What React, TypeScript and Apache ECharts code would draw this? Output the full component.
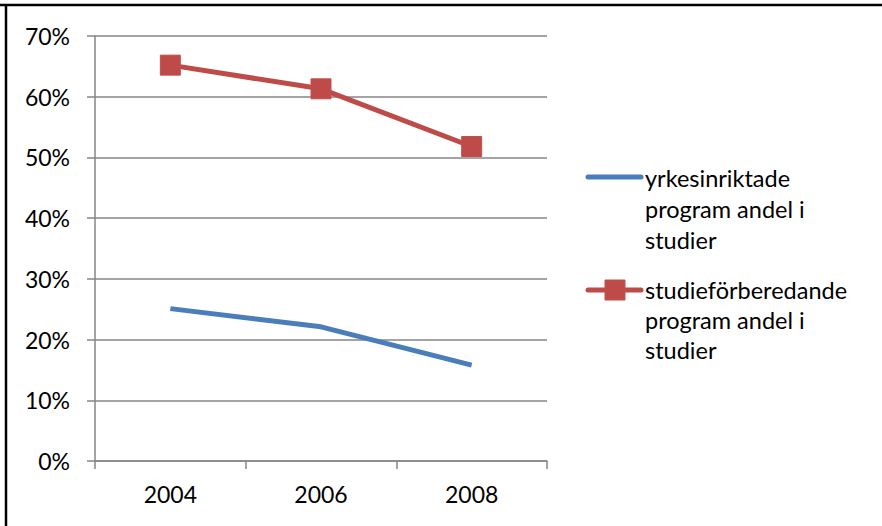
import React, { useEffect, useRef } from "react";
import * as echarts from "echarts";

const categories = ["2004", "2006", "2008"];
const seriesNames = [
  "yrkesinriktade program andel i studier",
  "studieförberedande program andel i studier",
];
const legendLabels = [
  "yrkesinriktade\nprogram andel i\nstudier",
  "studieförberedande\nprogram andel i\nstudier",
];
const yrkesValues = [0.251, 0.221, 0.158];
const studieValues = [0.652, 0.613, 0.518];

const FONT = "Lato, 'Open Sans', sans-serif";
const BLUE = "#4A7EBB";
const RED = "#BE4B48";

export default function App() {
  const ref = useRef<HTMLDivElement>(null);
  useEffect(() => {
    if (!ref.current) return;
    const chart = echarts.init(ref.current, undefined, { renderer: "svg" });
    chart.setOption({
      animation: false,
      backgroundColor: "#ffffff",
      grid: { left: 95, right: 335, top: 36, bottom: 65 },
      xAxis: {
        type: "category",
        data: categories,
        boundaryGap: true,
        axisLine: { lineStyle: { color: "#868686", width: 1.5 } },
        axisTick: { show: true, length: 8, lineStyle: { color: "#868686", width: 1.5 } },
        axisLabel: { color: "#000", fontSize: 23, fontFamily: FONT, margin: 21 },
      },
      yAxis: {
        type: "value",
        min: 0,
        max: 0.7,
        interval: 0.1,
        axisLine: { show: true, lineStyle: { color: "#868686", width: 1.5 } },
        axisTick: { show: true, length: 8, lineStyle: { color: "#868686", width: 1.5 } },
        splitLine: { lineStyle: { color: "#868686", width: 1.5 } },
        axisLabel: {
          color: "#000",
          fontSize: 23,
          fontFamily: FONT,
          margin: 25,
          formatter: (v: number) => Math.round(v * 100) + "%",
        },
      },
      series: [
        {
          name: seriesNames[0],
          type: "line",
          data: yrkesValues,
          symbol: "none",
          lineStyle: { color: BLUE, width: 5 },
          itemStyle: { color: BLUE },
        },
        {
          name: seriesNames[1],
          type: "line",
          data: studieValues,
          symbol: "rect",
          symbolSize: 20,
          lineStyle: { color: RED, width: 5 },
          itemStyle: { color: RED, borderColor: "#C0504D", borderWidth: 1 },
        },
      ],
      graphic: [
        { type: "line", shape: { x1: 0, y1: 5, x2: 882, y2: 5 }, style: { stroke: "#000", lineWidth: 2.5 } },
        { type: "line", shape: { x1: 6, y1: 4, x2: 6, y2: 526 }, style: { stroke: "#000", lineWidth: 2.5 } },
        { type: "line", shape: { x1: 588, y1: 177, x2: 641, y2: 177 }, style: { stroke: BLUE, lineWidth: 5, lineCap: "round" } },
        {
          type: "text",
          left: 645,
          top: 162,
          style: { text: legendLabels[0], fontSize: 23.5, fontFamily: FONT, fill: "#000", lineHeight: 31 },
        },
        { type: "line", shape: { x1: 588, y1: 290, x2: 641, y2: 290 }, style: { stroke: RED, lineWidth: 5, lineCap: "round" } },
        { type: "rect", shape: { x: 605, y: 280, width: 20, height: 20 }, style: { fill: RED, stroke: "#C0504D", lineWidth: 1 } },
        {
          type: "text",
          left: 645,
          top: 275,
          style: { text: legendLabels[1], fontSize: 23.5, fontFamily: FONT, fill: "#000", lineHeight: 30 },
        },
      ],
    });
    return () => chart.dispose();
  }, []);
  return (
    <div
      ref={ref}
      style={{ position: "fixed", left: 0, top: 0, width: 882, height: 526 }}
    />
  );
}
